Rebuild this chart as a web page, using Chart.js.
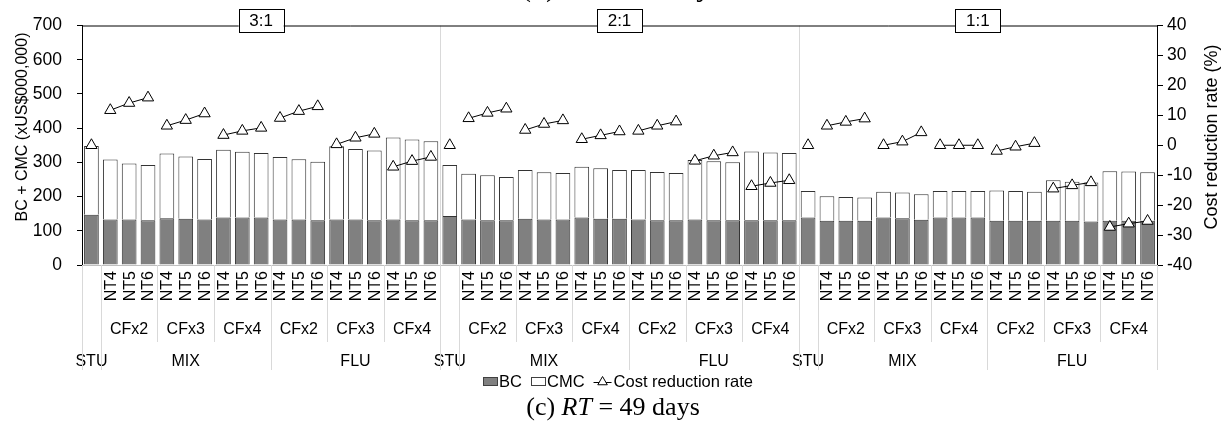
<!DOCTYPE html>
<html>
<head>
<meta charset="utf-8">
<script src="https://cdn.jsdelivr.net/npm/chart.js@4.4.1/dist/chart.umd.min.js"></script>
<style>
  html, body { margin: 0; padding: 0; background: #fff; }
  #wrap { width: 1223px; height: 428px; }
</style>
</head>
<body>
<div id="wrap"><canvas id="costChart" width="1223" height="428"></canvas></div>
<script>
// ===== DATA =====
const ratios = ['3:1', '2:1', '1:1'];
const methods = ['STU', 'MIX', 'FLU'];
const cfLevels = ['CFx2', 'CFx3', 'CFx4'];
const ntLevels = ['NT4', 'NT5', 'NT6'];

// BC part of each bar (xUS$000,000), per ratio: STU, MIX x9, FLU x9
const bcValues = [
    147, 133, 133, 131, 137, 135, 133, 139, 139, 139, 133, 133, 131, 133, 133, 131, 133, 131, 131,
    143, 133, 131, 131, 135, 133, 133, 139, 135, 135, 133, 131, 131, 133, 131, 131, 131, 131, 131,
    139, 129, 129, 129, 139, 137, 132, 139, 139, 139, 129, 129, 129, 129, 129, 127, 129, 129, 129
];
// CMC part stacked on top
const cmcValues = [
    201, 175, 164, 161, 189, 182, 177, 198, 192, 188, 183, 176, 171, 214, 206, 204, 240, 236, 231,
    149, 134, 131, 126, 143, 138, 136, 148, 148, 143, 145, 141, 138, 174, 172, 169, 201, 198, 196,
    77, 72, 70, 68, 75, 75, 75, 77, 77, 77, 89, 87, 85, 119, 114, 114, 145, 144, 142
];
// Cost reduction rate (%)
const reductionRates = [
    0, 11.7, 14.1, 15.9, 6.5, 8.4, 10.6, 3.4, 4.8, 5.8, 9.1, 11.4, 13.0, 0.3, 2.5, 3.8, -7.2, -5.3, -3.9,
    0, 9.0, 10.8, 12.2, 5.1, 7.1, 8.3, 2.0, 3.3, 4.6, 4.8, 6.5, 7.9, -5.2, -3.5, -2.4, -13.7, -12.6, -11.7,
    0, 6.5, 7.8, 8.9, 0, 1.2, 4.3, 0, 0, 0, -1.9, -0.5, 0.7, -14.5, -13.4, -12.4, -27.3, -26.2, -25.3
];

const costTicks = [0, 100, 200, 300, 400, 500, 600, 700];
const rateTicks = [-40, -30, -20, -10, 0, 10, 20, 30, 40];

// ===== CATEGORIES =====
const categories = [];
ratios.forEach(ratio => {
    categories.push({ ratio, method: methods[0] });
    methods.slice(1).forEach(method => {
        cfLevels.forEach(cf => {
            ntLevels.forEach(nt => categories.push({ ratio, method, cf, nt }));
        });
    });
});
const labels = categories.map(c => [c.ratio, c.method, c.cf, c.nt].filter(Boolean).join(' '));

const SANS = '"Liberation Sans", Arial, sans-serif';
const SERIF = '"Liberation Serif", "Times New Roman", serif';
const SEP_COLOR = '#d9d9d9';

// ===== HELPERS =====
function vline(ctx, x, y1, y2, color) {
    ctx.save();
    ctx.strokeStyle = color;
    ctx.lineWidth = 1;
    ctx.beginPath();
    ctx.moveTo(Math.round(x) + 0.5, y1);
    ctx.lineTo(Math.round(x) + 0.5, y2);
    ctx.stroke();
    ctx.restore();
}

function drawTriangle(ctx, x, y, r) {
    ctx.beginPath();
    ctx.moveTo(x, y - r);
    ctx.lineTo(x + r * 0.866, y + r * 0.5);
    ctx.lineTo(x - r * 0.866, y + r * 0.5);
    ctx.closePath();
    ctx.fillStyle = '#fff';
    ctx.fill();
    ctx.strokeStyle = '#000';
    ctx.lineWidth = 1;
    ctx.stroke();
}

// group runs of equal keys -> [{key, start, end}]
function runs(keyFn) {
    const out = [];
    categories.forEach((c, i) => {
        const k = keyFn(c);
        const last = out[out.length - 1];
        if (last && last.key === k) last.end = i;
        else out.push({ key: k, start: i, end: i, cat: c });
    });
    return out;
}

// ===== PLUGIN: multi-level axis, group boxes, titles, legend =====
const decorPlugin = {
    id: 'decor',
    beforeDatasetsDraw(chart) {
        const { ctx, chartArea, scales: { x } } = chart;
        const step = x.getPixelForValue(1) - x.getPixelForValue(0);
        // ratio group separators inside plot
        runs(c => c.ratio).forEach(r => {
            if (r.start > 0) vline(ctx, x.getPixelForValue(r.start) - step / 2, chartArea.top, chartArea.bottom, SEP_COLOR);
        });
    },
    afterDraw(chart) {
        const { ctx, chartArea, scales: { x } } = chart;
        const step = x.getPixelForValue(1) - x.getPixelForValue(0);
        const bottom = chartArea.bottom;
        const edge = i => x.getPixelForValue(i) - step / 2;

        ctx.save();
        ctx.fillStyle = '#000';

        // NT labels (rotated)
        ctx.font = '16px ' + SANS;
        ctx.textAlign = 'right';
        ctx.textBaseline = 'middle';
        categories.forEach((c, i) => {
            if (!c.nt) return;
            ctx.save();
            ctx.translate(x.getPixelForValue(i) + 1, bottom + 6);
            ctx.rotate(-Math.PI / 2);
            ctx.fillText(c.nt, 0, 0);
            ctx.restore();
        });

        // CF labels and their separators
        ctx.textAlign = 'center';
        runs(c => c.ratio + c.method + (c.cf || '')).forEach(r => {
            if (!r.cat.cf) return;
            const cx = (x.getPixelForValue(r.start) + x.getPixelForValue(r.end)) / 2;
            ctx.fillText(r.cat.cf, cx, 330);
            if (r.cat.cf !== cfLevels[0]) vline(ctx, edge(r.start), bottom, 342, SEP_COLOR);
        });

        // method labels and separators
        runs(c => c.ratio + c.method).forEach(r => {
            const cx = (x.getPixelForValue(r.start) + x.getPixelForValue(r.end)) / 2;
            ctx.fillStyle = '#000';
            ctx.fillText(r.cat.method, cx, 362);
            vline(ctx, edge(r.start), bottom, 370, SEP_COLOR);
        });
        vline(ctx, edge(categories.length), bottom, 370, SEP_COLOR);

        // top border line + ratio boxes
        ctx.strokeStyle = '#000';
        ctx.lineWidth = 1;
        ctx.beginPath();
        ctx.moveTo(chartArea.left, chartArea.top + 0.5);
        ctx.lineTo(chartArea.right, chartArea.top + 0.5);
        ctx.stroke();
        ctx.font = '17px ' + SANS;
        runs(c => c.ratio).forEach(r => {
            const cx = (x.getPixelForValue(r.start) + x.getPixelForValue(r.end)) / 2;
            ctx.fillStyle = '#fff';
            ctx.fillRect(cx - 22.5, 9.5, 45, 23);
            ctx.strokeRect(Math.round(cx - 22.5) + 0.5, 9.5, 45, 23);
            ctx.fillStyle = '#000';
            ctx.fillText(r.key, cx, 21.5);
        });

        // axis titles
        ctx.font = '16px ' + SANS;
        ctx.save();
        ctx.translate(23, 127);
        ctx.rotate(-Math.PI / 2);
        ctx.fillText('BC + CMC (xUS$000,000)', 0, 0);
        ctx.restore();
        ctx.font = '18px ' + SANS;
        ctx.save();
        ctx.translate(1212, 137);
        ctx.rotate(-Math.PI / 2);
        ctx.fillText('Cost reduction rate (%)', 0, 0);
        ctx.restore();

        // legend
        drawLegend(ctx, 618, 381);

        // caption
        drawCaption(ctx, 613, 415, '(c) ', 'RT', ' = 49 days', 26);
        // clipped caption of the panel above
        drawCaption(ctx, 622, -4, '(b) ', 'RT', ' = 35 days', 30);

        ctx.restore();
    }
};

function drawLegend(ctx, cx, cy) {
    ctx.save();
    ctx.font = '16.5px ' + SANS;
    ctx.textAlign = 'left';
    ctx.textBaseline = 'middle';
    const items = [
        { type: 'box', fill: '#808080', text: 'BC' },
        { type: 'box', fill: '#ffffff', text: 'CMC' },
        { type: 'line', text: 'Cost reduction rate' }
    ];
    const symW = i => (i.type === 'box' ? 14 : 18);
    const total = items.reduce((s, i) => s + symW(i) + 2 + ctx.measureText(i.text).width, 0) + 9 * (items.length - 1);
    let px = cx - total / 2;
    items.forEach(i => {
        if (i.type === 'box') {
            ctx.fillStyle = i.fill;
            ctx.fillRect(px, cy - 4, 14, 8);
            ctx.strokeStyle = '#404040';
            ctx.lineWidth = 1;
            ctx.strokeRect(Math.round(px) + 0.5, cy - 3.5, 14, 8);
        } else {
            ctx.strokeStyle = '#000';
            ctx.lineWidth = 1;
            ctx.beginPath();
            ctx.moveTo(px, cy + 1.5);
            ctx.lineTo(px + 18, cy + 1.5);
            ctx.stroke();
            drawTriangle(ctx, px + 9, cy + 1, 5.5);
        }
        px += symW(i) + 2;
        ctx.fillStyle = '#000';
        ctx.fillText(i.text, px, cy + 1);
        px += ctx.measureText(i.text).width + 9;
    });
    ctx.restore();
}

function drawCaption(ctx, cx, baseline, pre, ital, post, size) {
    ctx.save();
    ctx.textAlign = 'left';
    ctx.textBaseline = 'alphabetic';
    const normal = size + 'px ' + SERIF;
    const italic = 'italic ' + size + 'px ' + SERIF;
    ctx.font = normal;
    const w1 = ctx.measureText(pre).width;
    const w3 = ctx.measureText(post).width;
    ctx.font = italic;
    const w2 = ctx.measureText(ital).width;
    const px = cx - (w1 + w2 + w3) / 2;
    ctx.fillStyle = '#000';
    ctx.font = normal;
    ctx.fillText(pre, px, baseline);
    ctx.font = italic;
    ctx.fillText(ital, px + w1, baseline);
    ctx.font = normal;
    ctx.fillText(post, px + w1 + w2, baseline);
    ctx.restore();
}

// ===== CHART =====
const hidden = 'rgba(0,0,0,0)';
new Chart(document.getElementById('costChart'), {
    data: {
        labels: labels,
        datasets: [{
            type: 'line',
            label: 'Cost reduction rate',
            data: reductionRates,
            yAxisID: 'y2',
            order: 0,
            borderColor: '#000',
            borderWidth: 1,
            pointStyle: 'triangle',
            pointRadius: 6.5,
            pointBackgroundColor: '#fff',
            pointBorderColor: '#000',
            pointBorderWidth: 1,
            segment: {
                borderColor: ctx => {
                    const c = categories[ctx.p1DataIndex];
                    return (c.method === 'STU' || c.nt === 'NT4') ? hidden : '#000';
                }
            }
        }, {
            type: 'bar',
            label: 'BC',
            data: bcValues,
            yAxisID: 'y',
            stack: 'cost',
            order: 1,
            backgroundColor: '#808080',
            borderColor: '#333333',
            borderWidth: 1,
            barPercentage: 0.78,
            categoryPercentage: 1.0
        }, {
            type: 'bar',
            label: 'CMC',
            data: cmcValues,
            yAxisID: 'y',
            stack: 'cost',
            order: 1,
            backgroundColor: '#ffffff',
            borderColor: '#333333',
            borderWidth: 1,
            barPercentage: 0.78,
            categoryPercentage: 1.0
        }]
    },
    options: {
        responsive: false,
        animation: false,
        devicePixelRatio: 1,
        layout: { padding: { top: 20, left: 0, right: 0, bottom: 0 } },
        plugins: {
            legend: { display: false },
            tooltip: { enabled: false }
        },
        scales: {
            x: {
                stacked: true,
                offset: true,
                grid: { display: false },
                border: { color: '#bfbfbf' },
                ticks: { display: false },
                afterFit: s => { s.height = 428 - 265; }
            },
            y: {
                position: 'left',
                stacked: true,
                min: costTicks[0],
                max: costTicks[costTicks.length - 1],
                afterBuildTicks: s => { s.ticks = costTicks.map(v => ({ value: v })); },
                grid: { drawOnChartArea: false, color: '#000', tickLength: 5 },
                border: { color: '#000' },
                ticks: { color: '#000', padding: 15, font: { family: SANS, size: 17.5 } },
                afterFit: s => { s.width = 82; }
            },
            y2: {
                position: 'right',
                min: rateTicks[0],
                max: rateTicks[rateTicks.length - 1],
                afterBuildTicks: s => { s.ticks = rateTicks.map(v => ({ value: v })); },
                grid: { drawOnChartArea: false, color: '#000', tickLength: 6 },
                border: { color: '#000' },
                ticks: { color: '#000', padding: 4, font: { family: SANS, size: 17.5 } },
                afterFit: s => { s.width = 1223 - 1157; }
            }
        }
    },
    plugins: [decorPlugin]
});
</script>
</body>
</html>
